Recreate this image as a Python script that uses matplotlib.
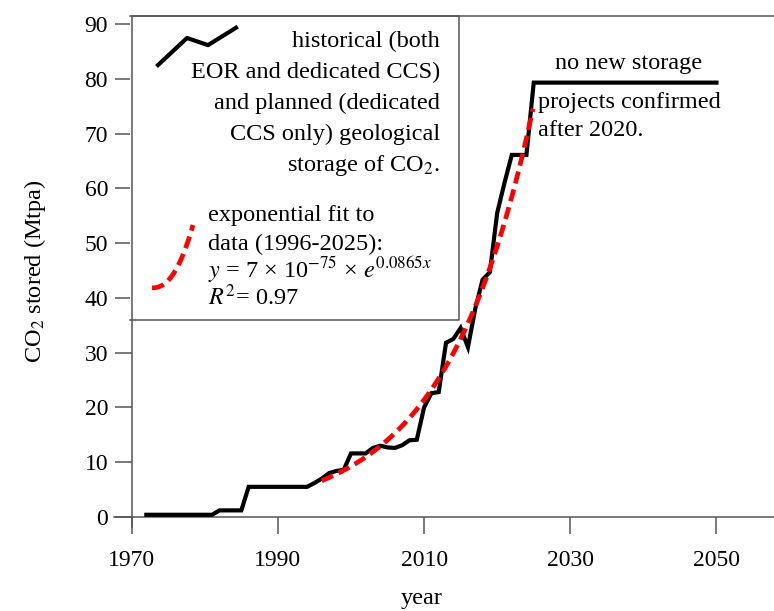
import numpy as np
import matplotlib
matplotlib.use("Agg")
import matplotlib.pyplot as plt

plt.rcParams['font.family'] = ['Liberation Serif', 'DejaVu Serif']
plt.rcParams['mathtext.fontset'] = 'stix'

# CO2 stored (Mtpa)
years = [1972, 1981, 1982, 1985, 1986, 1994, 1995, 1996, 1997, 1998, 1999,
         2000, 2002, 2003, 2004, 2005, 2006, 2007, 2008, 2009, 2010, 2011,
         2012, 2013, 2014, 2015, 2016, 2017, 2018, 2019, 2020, 2021, 2022,
         2024, 2025, 2050]
stored = [0.4, 0.4, 1.2, 1.2, 5.5, 5.5, 6.2, 7.0, 8.0, 8.4, 8.6,
          11.6, 11.6, 12.6, 13.0, 12.7, 12.6, 13.1, 14.0, 14.1, 20.0, 22.6,
          22.8, 31.8, 32.5, 34.5, 31.0, 38.0, 43.3, 44.7, 55.5, 61.0, 66.1,
          66.1, 79.3, 79.3]

# exponential fit to the 1996-2025 data (legend: y = 7e-75 * exp(0.0865 x))
fit_start, fit_end = 1996, 2025

x_ticks = [1970, 1990, 2010, 2030, 2050]
y_ticks = [0, 10, 20, 30, 40, 50, 60, 70, 80, 90]

yr = np.array(years, dtype=float)
val = np.array(stored)
# yearly series inside the fit window
fit_years = np.arange(fit_start, fit_end + 1)
fit_vals = np.interp(fit_years, yr, val)
b, ln_a = np.polyfit(fit_years, np.log(fit_vals), 1)

fig = plt.figure(figsize=(7.74, 6.11), dpi=100)
ax = fig.add_axes([0.1473, 0.1375, 0.8527, 0.8363])

ax.plot(years, stored, color='black', lw=3.0, solid_joinstyle='miter', zorder=3)

fx = np.linspace(fit_start, fit_end - 0.1, 200)
ax.plot(fx, np.exp(ln_a + b * fx), color='#ff0000', lw=3.4,
        dashes=(2.6, 1.3), zorder=4)

ax.set_xlim(1967.58, 2057.87)
ax.set_ylim(-1.83, 91.46)
ax.set_xticks(x_ticks)
ax.set_yticks(y_ticks)

spine_col = '#555555'
ax.spines['left'].set_position(('data', 1970))
ax.spines['bottom'].set_position(('data', 0))
ax.spines['right'].set_visible(False)
ax.spines['top'].set_bounds(1970, 2057.87)
for s in ['left', 'bottom', 'top']:
    ax.spines[s].set_color(spine_col)
    ax.spines[s].set_linewidth(1.1)
ax.tick_params(direction='out', length=12, width=1.1, color=spine_col,
               labelsize=17, pad=5)
ax.tick_params(axis='x', pad=12)

ax.set_xlabel('year', fontsize=17.5)
ax.xaxis.set_label_coords(0.4667, -0.12)
ax.set_ylabel('CO$_2$ stored (Mtpa)', fontsize=17.5)
ax.yaxis.set_label_coords(-0.1, 0.50)

# legend box drawn by hand
box_x = [0.0242, 0.5227, 0.5227, 0.0242]
box_y = [1.0, 1.0, 0.405, 0.405]
ax.plot(box_x, box_y, color=spine_col, lw=1.1, transform=ax.transAxes,
        clip_on=False, zorder=5)
ax.add_patch(plt.Rectangle((0.0242, 0.405), 0.4985, 0.595, transform=ax.transAxes,
                           facecolor='white', edgecolor='none', zorder=2))

hist_x = [0.0667, 0.1106, 0.1424, 0.1848]
hist_y = [0.904, 0.957, 0.943, 0.977]
ax.plot(hist_x, hist_y, color='black', lw=3.0, transform=ax.transAxes, zorder=6)

arc_t = np.linspace(0, 1, 30)
arc_x = 0.0576 + 0.0621 * arc_t
arc_y = 0.468 + 0.123 * arc_t ** 2.3
ax.plot(arc_x, arc_y, color='#ff0000', lw=3.4, dashes=(2.6, 1.3),
        transform=ax.transAxes, zorder=6)

hist_lines = ['historical (both', 'EOR and dedicated CCS)', 'and planned (dedicated',
              'CCS only) geological', 'storage of CO$_2$.']
for i, t in enumerate(hist_lines):
    ax.text(0.4939, 0.950 - i * 0.0607, t, transform=ax.transAxes, ha='right',
            va='center', fontsize=17.5, zorder=6)

fit_lines = ['exponential fit to', 'data (1996-2025):',
             r'$y$ = 7 × 10$^{-75}$ × $e^{0.0865x}$', r'$R^2$= 0.97']
fit_pos = [0.610, 0.552, 0.503, 0.450]
for t, yy in zip(fit_lines, fit_pos):
    ax.text(0.1424, yy, t, transform=ax.transAxes, ha='left', va='center',
            fontsize=17.5, zorder=6)

ax.text(2038.0, 80.9, 'no new storage', ha='center', va='bottom', fontsize=17.5)
ax.text(2025.6, 77.5, 'projects confirmed\nafter 2020.', ha='left', va='top',
        fontsize=17.5, linespacing=1.42)

fig.savefig('out.png', dpi=100)
